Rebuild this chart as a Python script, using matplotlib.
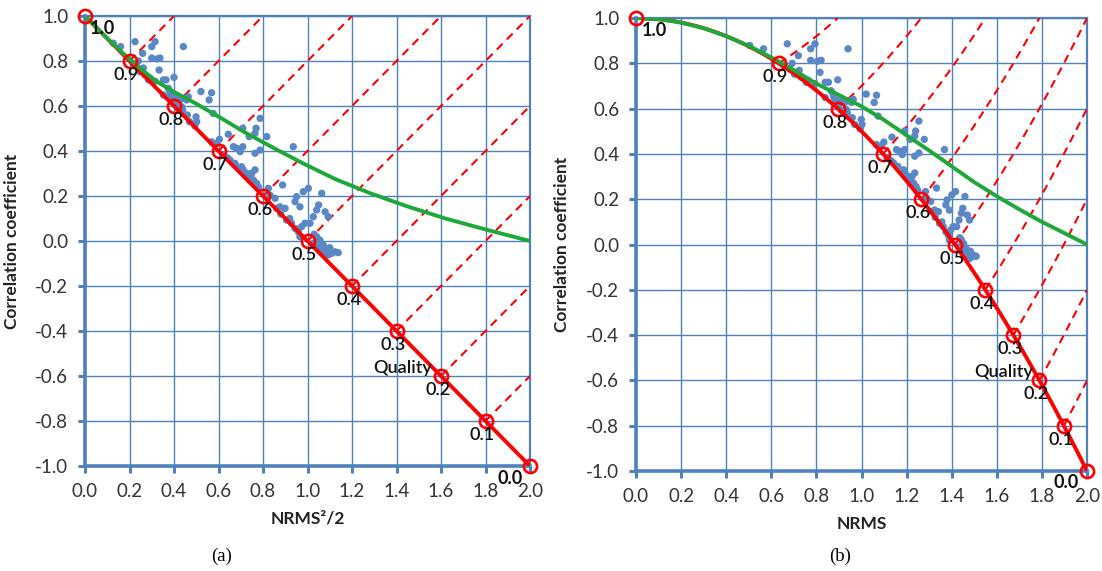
import numpy as np
import matplotlib
matplotlib.use("Agg")
import matplotlib.pyplot as plt

plt.rcParams['font.family'] = ['Lato', 'DejaVu Sans']

# ---------------- data ----------------
quality_labels = ["1.0", "0.9", "0.8", "0.7", "0.6", "0.5", "0.4", "0.3", "0.2", "0.1", "0.0"]
marker_nrms2_half = [0.0, 0.2, 0.4, 0.6, 0.8, 1.0, 1.2, 1.4, 1.6, 1.8, 2.0]
marker_corr = [1.0, 0.8, 0.6, 0.4, 0.2, 0.0, -0.2, -0.4, -0.6, -0.8, -1.0]

green_nrms2_half = [0.0, 0.005, 0.02, 0.045, 0.08, 0.125, 0.18, 0.245, 0.32, 0.405, 0.5,
                    0.605, 0.72, 0.845, 0.98, 1.125, 1.28, 1.445, 1.62, 1.805, 2.0]
green_corr = [1.0, 0.995, 0.98, 0.955, 0.92, 0.877, 0.826, 0.77, 0.71, 0.66, 0.61,
              0.55, 0.482, 0.415, 0.345, 0.275, 0.213, 0.155, 0.10, 0.05, 0.0]

scatter_nrms2_half = [
    0.127, 0.160, 0.225, 0.259, 0.300, 0.315, 0.324, 0.333, 0.442, 0.216, 0.232, 0.247, 0.270,
    0.285, 0.337, 0.300, 0.240, 0.262, 0.292, 0.315,
    0.352, 0.364, 0.400, 0.352, 0.374, 0.382, 0.390, 0.397, 0.404, 0.427, 0.442, 0.457, 0.464,
    0.434, 0.419, 0.439, 0.385, 0.410,
    0.499, 0.502, 0.494, 0.521, 0.569, 0.558, 0.576, 0.604, 0.644, 0.667, 0.682, 0.709, 0.697,
    0.709, 0.738, 0.764, 0.769, 0.787, 0.787, 0.764, 0.817, 0.936, 0.569, 0.592, 0.460, 0.470,
    0.652, 0.674, 0.689, 0.711, 0.726, 0.742, 0.757, 0.771, 0.704, 0.764, 0.749, 0.730, 0.780,
    0.620, 0.640,
    0.824, 0.888, 0.831, 0.854, 0.876, 0.899, 0.861, 0.944, 0.951, 0.966, 0.981, 1.004, 1.064,
    1.093, 1.079, 1.041, 1.026, 1.011, 0.989, 0.974, 0.906, 0.928, 0.944, 0.959, 0.966, 0.880,
    0.920, 1.050,
    1.026, 1.049, 1.056, 1.079, 1.093, 1.108, 1.124, 1.138, 1.086, 1.071, 1.041, 1.056, 1.030,
    1.100]
scatter_corr = [
    0.879, 0.864, 0.886, 0.834, 0.864, 0.886, 0.809, 0.760, 0.864, 0.790, 0.775, 0.752, 0.738,
    0.716, 0.813, 0.813, 0.800, 0.769, 0.724, 0.710,
    0.716, 0.716, 0.727, 0.649, 0.679, 0.664, 0.634, 0.627, 0.613, 0.627, 0.634, 0.627, 0.641,
    0.597, 0.590, 0.582, 0.650, 0.640,
    0.552, 0.530, 0.511, 0.664, 0.659, 0.627, 0.567, 0.452, 0.474, 0.419, 0.412, 0.419, 0.397,
    0.501, 0.464, 0.479, 0.501, 0.545, 0.404, 0.390, 0.464, 0.419, 0.441, 0.434, 0.560, 0.530,
    0.360, 0.345, 0.327, 0.316, 0.301, 0.286, 0.271, 0.256, 0.330, 0.316, 0.301, 0.290, 0.240,
    0.380, 0.370,
    0.234, 0.249, 0.204, 0.190, 0.152, 0.145, 0.145, 0.175, 0.197, 0.152, 0.219, 0.234, 0.212,
    0.108, 0.130, 0.138, 0.108, 0.079, 0.079, 0.064, 0.093, 0.079, 0.056, 0.041, 0.019, 0.120,
    0.100, 0.160,
    -0.010, -0.025, -0.040, -0.055, -0.062, -0.055, -0.048, -0.052, -0.040, -0.018, 0.019, 0.004,
    0.030, -0.030]

ticks = [0.0, 0.2, 0.4, 0.6, 0.8, 1.0, 1.2, 1.4, 1.6, 1.8, 2.0]
yticks = [-1.0, -0.8, -0.6, -0.4, -0.2, 0.0, 0.2, 0.4, 0.6, 0.8, 1.0]

# ---------------- style ----------------
BLUE = "#4F81BD"
DOT = "#5A87C5"
RED = "#FF0000"
GREEN = "#1FA83A"

fig = plt.figure(figsize=(11.02, 5.71), dpi=100)
ax_a = fig.add_axes([85 / 1102, 1 - 466 / 571, 445 / 1102, 450 / 571])
ax_b = fig.add_axes([636 / 1102, 1 - 471 / 571, 451 / 1102, 453 / 571])


def to_nrms(v):
    return np.sqrt(2.0 * np.asarray(v, dtype=float))


def style_axes(ax):
    ax.set_xlim(0, 2)
    ax.set_ylim(-1, 1)
    ax.set_xticks(ticks)
    ax.set_yticks(yticks)
    ax.set_xticklabels([f"{t:.1f}" for t in ticks])
    ax.set_yticklabels([f"{t:.1f}" for t in yticks])
    ax.grid(True, color=BLUE, linewidth=1.0)
    ax.set_axisbelow(True)
    for s in ["left", "bottom"]:
        ax.spines[s].set_color(BLUE)
        ax.spines[s].set_linewidth(2.6)
    for s in ["top", "right"]:
        ax.spines[s].set_color(BLUE)
        ax.spines[s].set_linewidth(1.6)
    ax.tick_params(axis='both', colors=BLUE, width=2.2, length=5, labelsize=13.5,
                   labelcolor="#333333")
    ax.tick_params(axis='x', pad=7)
    ax.tick_params(axis='y', pad=7)
    ax.set_ylabel("Correlation coefficient", fontsize=12.5, fontweight='bold', color="#222222")
    ax.yaxis.set_label_coords(-0.146, 0.5)


def draw_panel(ax, transform_x, xlabel, label_offsets, quality_pos):
    # dashed quality lines
    for k in range(1, 10):
        x0 = marker_nrms2_half[k]
        y0 = marker_corr[k]
        t = min(2.0 - x0, 1.0 - y0)
        s = np.linspace(0, t, 80)
        ax.plot(transform_x(x0 + s), y0 + s, color=RED, lw=1.5, ls=(0, (4, 2.8)), zorder=3)
    # scatter
    ax.scatter(transform_x(scatter_nrms2_half), scatter_corr, s=28, color=DOT,
               edgecolors='none', zorder=4)
    # red quality line
    s = np.linspace(marker_nrms2_half[0], marker_nrms2_half[-1], 300)
    yline = np.interp(s, marker_nrms2_half, marker_corr)
    ax.plot(transform_x(s), yline, color=RED, lw=2.8, zorder=5, solid_capstyle='round')
    # green curve
    ax.plot(transform_x(green_nrms2_half), green_corr, color=GREEN, lw=2.8, zorder=6)
    # markers
    ax.plot(transform_x(marker_nrms2_half), marker_corr, ls='none', marker='o', ms=9.5,
            mfc='none', mec=RED, mew=1.9, zorder=7, clip_on=False)
    for i, lab in enumerate(quality_labels):
        dx, dy = label_offsets.get(i, (-3, -14))
        ax.annotate(lab, (transform_x(marker_nrms2_half[i]), marker_corr[i]),
                    xytext=(dx, dy), textcoords='offset pixels', ha='center', va='center',
                    fontsize=13, fontweight='bold' if i in (0, 10) else 'semibold',
                    color="#111111", zorder=8, annotation_clip=False)
    ax.annotate("Quality", (transform_x(marker_nrms2_half[8]), marker_corr[8]),
                xytext=quality_pos, textcoords='offset pixels', ha='center', va='center',
                fontsize=13, fontweight='semibold', color="#111111", zorder=8)
    ax.set_xlabel(xlabel, fontsize=12.5, fontweight='bold', color="#222222")


style_axes(ax_a)
style_axes(ax_b)

draw_panel(ax_a, lambda v: np.asarray(v, dtype=float), "NRMS²/2",
           {0: (17, -13), 10: (-20, -12)}, (-38, 8))
draw_panel(ax_b, to_nrms, "NRMS",
           {0: (18, -13), 10: (-21, -11)}, (-36, 8))

ax_a.xaxis.set_label_coords(0.5, -0.098)
ax_b.xaxis.set_label_coords(0.5, -0.10)

fig.text(222 / 1102, 1 - 556 / 571, "(a)", ha='center', va='center', fontsize=13.5,
         family='Liberation Serif')
fig.text(840 / 1102, 1 - 556 / 571, "(b)", ha='center', va='center', fontsize=13.5,
         family='Liberation Serif')

fig.savefig("out.png", dpi=100)
